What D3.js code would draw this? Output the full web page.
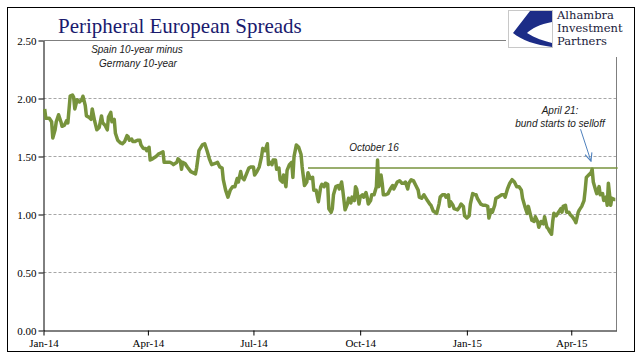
<!DOCTYPE html>
<html>
<head>
<meta charset="utf-8">
<script src="https://cdn.jsdelivr.net/npm/d3@7"></script>
<style>
body { margin: 0; background: #fff; }
</style>
</head>
<body>
<div id="chart"></div>
<script>

// Spain 10y minus Germany 10y (pct points)
var dates = [
    "2014-01-02","2014-01-03","2014-01-06","2014-01-08","2014-01-09","2014-01-11","2014-01-12","2014-01-14","2014-01-16","2014-01-17",
    "2014-01-19","2014-01-21","2014-01-22","2014-01-24","2014-01-26","2014-01-27","2014-01-28","2014-01-30","2014-02-01","2014-02-03",
    "2014-02-04","2014-02-06","2014-02-07","2014-02-09","2014-02-11","2014-02-12","2014-02-14","2014-02-16","2014-02-18","2014-02-20",
    "2014-02-21","2014-02-23","2014-02-25","2014-02-26","2014-02-28","2014-03-01","2014-03-03","2014-03-04","2014-03-06","2014-03-08",
    "2014-03-10","2014-03-12","2014-03-14","2014-03-15","2014-03-16","2014-03-18","2014-03-19","2014-03-21","2014-03-23","2014-03-25",
    "2014-03-26","2014-03-28","2014-03-30","2014-03-31","2014-04-02","2014-04-03","2014-04-05","2014-04-08","2014-04-10","2014-04-12",
    "2014-04-14","2014-04-15","2014-04-18","2014-04-20","2014-04-22","2014-04-23","2014-04-26","2014-04-27","2014-04-29","2014-04-30",
    "2014-05-01","2014-05-03","2014-05-05","2014-05-08",
    "2014-05-12","2014-05-13","2014-05-15","2014-05-18","2014-05-20","2014-05-22","2014-05-24","2014-05-26","2014-05-29","2014-05-31",
    "2014-06-02","2014-06-04","2014-06-05","2014-06-07","2014-06-09","2014-06-11","2014-06-13","2014-06-15","2014-06-17","2014-06-18",
    "2014-06-20","2014-06-21","2014-06-23","2014-06-25","2014-06-27","2014-06-29","2014-07-01","2014-07-02","2014-07-04","2014-07-06",
    "2014-07-08","2014-07-09","2014-07-11","2014-07-13","2014-07-14","2014-07-16","2014-07-17","2014-07-18","2014-07-20","2014-07-21",
    "2014-07-23","2014-07-24","2014-07-26","2014-07-27","2014-07-29","2014-07-30","2014-08-01","2014-08-03","2014-08-04","2014-08-05",
    "2014-08-07","2014-08-09","2014-08-11","2014-08-12","2014-08-14","2014-08-16","2014-08-17","2014-08-19","2014-08-21","2014-08-22",
    "2014-08-24","2014-08-26","2014-08-28","2014-08-29","2014-08-31","2014-09-01","2014-09-03","2014-09-04","2014-09-06",
    "2014-09-07","2014-09-08","2014-09-10","2014-09-12","2014-09-13","2014-09-15","2014-09-16","2014-09-18","2014-09-20","2014-09-21",
    "2014-09-23","2014-09-24","2014-09-26","2014-09-27","2014-09-28","2014-09-30","2014-10-01","2014-10-03","2014-10-04","2014-10-06",
    "2014-10-07","2014-10-08","2014-10-10","2014-10-11","2014-10-13","2014-10-15","2014-10-16","2014-10-17","2014-10-18","2014-10-19",
    "2014-10-20","2014-10-21","2014-10-23","2014-10-25","2014-10-27","2014-10-29","2014-10-30","2014-10-31","2014-11-02","2014-11-04",
    "2014-11-06","2014-11-08","2014-11-09","2014-11-11","2014-11-12","2014-11-14","2014-11-16","2014-11-18","2014-11-20","2014-11-21",
    "2014-11-23","2014-11-25","2014-11-28","2014-11-30","2014-12-01","2014-12-03","2014-12-06","2014-12-08","2014-12-09","2014-12-11",
    "2014-12-13","2014-12-14","2014-12-16","2014-12-17","2014-12-18","2014-12-20","2014-12-21","2014-12-24","2014-12-26","2014-12-27",
    "2014-12-29","2014-12-30","2015-01-01","2015-01-03","2015-01-04","2015-01-06","2015-01-08","2015-01-09","2015-01-10",
    "2015-01-13","2015-01-15","2015-01-17","2015-01-19","2015-01-20","2015-01-22","2015-01-23","2015-01-25","2015-01-26","2015-01-28",
    "2015-01-31","2015-02-02","2015-02-03","2015-02-05","2015-02-07","2015-02-09","2015-02-11","2015-02-13","2015-02-15","2015-02-17",
    "2015-02-18","2015-02-20","2015-02-22","2015-02-23","2015-02-25","2015-02-26","2015-02-28","2015-03-01","2015-03-03","2015-03-04",
    "2015-03-06","2015-03-08","2015-03-09","2015-03-11","2015-03-12","2015-03-13","2015-03-15","2015-03-16","2015-03-17","2015-03-19",
    "2015-03-21","2015-03-23","2015-03-24","2015-03-25","2015-03-27","2015-03-28","2015-03-30","2015-03-31","2015-04-02","2015-04-04",
    "2015-04-05","2015-04-07","2015-04-08","2015-04-10","2015-04-12","2015-04-13","2015-04-14","2015-04-16","2015-04-18","2015-04-19",
    "2015-04-20","2015-04-22","2015-04-23","2015-04-25","2015-04-26","2015-04-28","2015-04-29","2015-05-01","2015-05-02","2015-05-03",
    "2015-05-05","2015-05-06","2015-05-08","2015-05-09"
];

var spread = [
    1.91,1.83,1.83,1.80,1.66,1.73,1.80,1.86,1.80,1.76,
    1.77,1.81,1.79,2.02,2.03,2.01,1.91,1.99,1.97,1.99,
    2.02,1.94,1.85,1.84,1.82,1.91,1.81,1.73,1.75,1.85,
    1.79,1.77,1.73,1.84,1.88,1.80,1.82,1.70,1.64,1.62,
    1.61,1.63,1.68,1.67,1.64,1.65,1.63,1.63,1.64,1.64,
    1.60,1.57,1.57,1.55,1.58,1.47,1.48,1.50,1.52,1.53,
    1.54,1.45,1.45,1.45,1.44,1.43,1.45,1.48,1.46,1.39,
    1.45,1.44,1.41,1.37,
    1.35,1.40,1.55,1.60,1.61,1.55,1.48,1.43,1.44,1.45,
    1.41,1.40,1.30,1.21,1.15,1.21,1.24,1.24,1.31,1.28,
    1.37,1.32,1.30,1.35,1.40,1.41,1.41,1.34,1.37,1.41,
    1.50,1.57,1.55,1.61,1.43,1.45,1.43,1.47,1.47,1.39,
    1.40,1.30,1.28,1.34,1.24,1.38,1.43,1.45,1.32,1.50,
    1.60,1.58,1.52,1.41,1.25,1.28,1.36,1.31,1.32,1.21,
    1.21,1.11,1.24,1.26,1.24,1.27,1.26,1.05,1.02,
    1.05,1.17,1.24,1.25,1.22,1.28,1.21,1.04,1.09,1.14,
    1.10,1.15,1.12,1.24,1.22,1.09,1.15,1.17,1.15,1.19,
    1.15,1.09,1.12,1.17,1.17,1.24,1.47,1.24,1.27,1.34,
    1.27,1.17,1.17,1.18,1.22,1.25,1.22,1.24,1.28,1.29,
    1.27,1.27,1.28,1.22,1.27,1.30,1.29,1.25,1.21,1.15,
    1.14,1.17,1.12,1.09,1.08,1.03,1.01,1.09,1.15,1.17,
    1.17,1.15,1.17,1.07,1.11,1.08,1.05,1.04,1.07,1.09,
    1.07,0.99,0.97,0.99,1.09,1.18,1.17,1.17,1.14,
    1.09,1.08,1.08,1.07,0.97,1.04,1.02,1.08,1.14,1.15,
    1.17,1.17,1.15,1.22,1.27,1.30,1.28,1.24,1.24,1.21,
    1.14,1.07,1.01,1.07,0.99,0.95,0.94,0.98,0.94,0.89,
    0.94,0.92,0.98,0.89,0.88,0.86,0.83,0.94,1.01,0.99,
    1.02,1.05,1.02,1.07,1.08,1.02,1.02,1.00,0.98,0.95,
    0.93,1.02,1.04,1.07,1.12,1.21,1.32,1.34,1.36,1.39,
    1.28,1.21,1.18,1.24,1.17,1.18,1.12,1.15,1.08,1.27,
    1.08,1.14,1.13,1.13
];

// axis ticks
var xTicks = ["2014-01-01","2014-04-01","2014-07-01","2014-10-01","2015-01-01","2015-04-01"];
var yTicks = [0, 0.5, 1.0, 1.5, 2.0, 2.5];

// horizontal marker line and the arrow for the April 21 note
var refDates = ["2014-08-17", "2015-05-11"];
var refValue = 1.40;
var arrowDates = ["2015-04-09", "2015-04-18"];
var arrowValues = [1.735, 1.46];

var parse = d3.timeParse("%Y-%m-%d");

var data = dates.map(function(d, i) {
    return {date: parse(d), value: spread[i]};
});

var svg = d3.select("#chart").append("svg")
    .attr("width", 641)
    .attr("height", 361)
    .style("display", "block")
    .style("font-family", "'Liberation Serif', serif");

// scales
var x = d3.scaleTime()
    .domain([parse("2014-01-01"), parse("2015-05-10")])
    .range([43.5, 616.5]);
var y = d3.scaleLinear()
    .domain([0, 2.5])
    .range([330.5, 40.5]);

// outer frame
svg.append("rect")
    .attr("x", 7.5).attr("y", 7.5)
    .attr("width", 627).attr("height", 344)
    .attr("fill", "#fff")
    .attr("stroke", "#000")
    .attr("stroke-width", 1);

// dashed gridlines
svg.append("g").selectAll("line")
    .data(yTicks.filter(function(t) { return t > 0 && t < 2.5; }))
    .enter()
    .append("line")
    .attr("x1", x.range()[0]).attr("x2", x.range()[1])
    .attr("y1", function(d) { return y(d); })
    .attr("y2", function(d) { return y(d); })
    .attr("stroke", "#a6a6a6")
    .attr("stroke-dasharray", "3,2");

// plot area border (top and right)
svg.append("path")
    .attr("d", "M" + x.range()[0] + "," + y(2.5) + "H" + x.range()[1] + "V" + y(0))
    .attr("fill", "none")
    .attr("stroke", "#7f7f7f");

// axes
var yAxis = svg.append("g")
    .attr("transform", "translate(" + x.range()[0] + ",0)")
    .call(d3.axisLeft(y).tickValues(yTicks).tickFormat(d3.format(".2f")).tickSize(5).tickSizeOuter(0));

var xAxis = svg.append("g")
    .attr("transform", "translate(0," + y(0) + ")")
    .call(d3.axisBottom(x).tickValues(xTicks.map(parse)).tickFormat(d3.timeFormat("%b-%y")).tickSize(5).tickSizeOuter(0));

[yAxis, xAxis].forEach(function(a) {
    a.selectAll("path, line").attr("stroke", "#000");
    a.selectAll("text")
        .attr("fill", "#000")
        .style("font-family", "'Liberation Serif', serif")
        .style("font-size", "11px");
});
yAxis.selectAll("text").attr("x", -7);
xAxis.selectAll("text").attr("y", 9);

// reference line at the April high
svg.append("line")
    .attr("x1", x(parse(refDates[0]))).attr("x2", x(parse(refDates[1])))
    .attr("y1", y(refValue)).attr("y2", y(refValue))
    .attr("stroke", "#77933c")
    .attr("stroke-width", 1.5);

// the spread line
var line = d3.line()
    .x(function(d) { return x(d.date); })
    .y(function(d) { return y(d.value); });

svg.append("path")
    .datum(data)
    .attr("d", line)
    .attr("fill", "none")
    .attr("stroke", "#77933c")
    .attr("stroke-width", 3.5)
    .attr("stroke-linejoin", "round");

// arrow
svg.append("defs").append("marker")
    .attr("id", "head")
    .attr("viewBox", "0 0 10 10")
    .attr("refX", 9).attr("refY", 5)
    .attr("markerWidth", 9).attr("markerHeight", 9)
    .attr("orient", "auto")
    .append("path")
    .attr("d", "M0,1L9,5L0,9")
    .attr("fill", "none")
    .attr("stroke", "#4f81bd")
    .attr("stroke-width", 1.2);

svg.append("line")
    .attr("x1", x(parse(arrowDates[0]))).attr("y1", y(arrowValues[0]))
    .attr("x2", x(parse(arrowDates[1]))).attr("y2", y(arrowValues[1]))
    .attr("stroke", "#4f81bd")
    .attr("stroke-width", 1)
    .attr("marker-end", "url(#head)");

// notes
var notes = svg.append("g")
    .style("font-family", "'Liberation Sans', sans-serif")
    .style("font-style", "italic")
    .style("font-size", "10px")
    .attr("fill", "#1a1a1a")
    .attr("text-anchor", "middle");

notes.append("text").attr("x", 137).attr("y", 53).text("Spain 10-year minus");
notes.append("text").attr("x", 138).attr("y", 67).text("Germany 10-year");
notes.append("text").attr("x", 374).attr("y", 151).text("October 16");
notes.append("text").attr("x", 560).attr("y", 114).text("April 21:");
notes.append("text").attr("x", 560).attr("y", 127).text("bund starts to selloff");

// title
svg.append("text")
    .attr("x", 58).attr("y", 33)
    .attr("fill", "#1a1a6e")
    .style("font-family", "'Liberation Serif', serif")
    .style("font-size", "21px")
    .text("Peripheral European Spreads");

// logo
var logo = svg.append("g");
logo.append("rect")
    .attr("x", 506).attr("y", 8)
    .attr("width", 126).attr("height", 49)
    .attr("fill", "#fff");
logo.append("rect")
    .attr("x", 508.5).attr("y", 10.5)
    .attr("width", 44).attr("height", 37)
    .attr("fill", "#fff")
    .attr("stroke", "#c8c8c8");
logo.append("path")
    .attr("d", "M530,11L552,11L552,22C540,24 531,29 527,33C535,38 544,41 552,43L552,47C536,45 521,40 513,33Z")
    .attr("fill", "#1c2c87");
logo.selectAll("text")
    .data(["Alhambra", "Investment", "Partners"])
    .enter()
    .append("text")
    .attr("x", 557)
    .attr("y", function(d, i) { return 19 + i * 13; })
    .attr("fill", "#1a1a3a")
    .style("font-family", "'DejaVu Serif', serif")
    .style("font-size", "11.5px")
    .text(function(d) { return d; });

</script>
</body>
</html>
